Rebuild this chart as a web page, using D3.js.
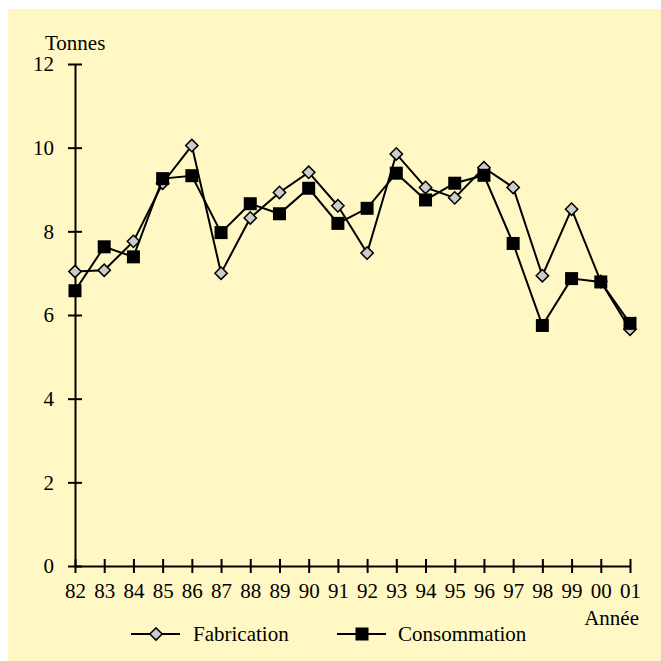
<!DOCTYPE html>
<html>
<head>
<meta charset="utf-8">
<script src="https://cdn.jsdelivr.net/npm/d3@7"></script>
<style>
  body { margin: 0; background: #fff; }
  svg text { font-family: 'Liberation Serif', 'Times New Roman', 'DejaVu Serif', serif; }
</style>
</head>
<body>
<div id="chart"></div>
<script>
// data
const years = ['82','83','84','85','86','87','88','89','90','91','92','93','94','95','96','97','98','99','00','01'];
const fabrication = [7.04, 7.07, 7.76, 9.15, 10.05, 7.0, 8.32, 8.93, 9.41, 8.61, 7.48, 9.85, 9.05, 8.80, 9.52, 9.05, 6.94, 8.53, 6.80, 5.66];
const consommation = [6.58, 7.63, 7.39, 9.26, 9.33, 7.97, 8.66, 8.42, 9.03, 8.19, 8.55, 9.39, 8.75, 9.15, 9.34, 7.71, 5.75, 6.87, 6.79, 5.80];
const yTicks = [0, 2, 4, 6, 8, 10, 12];

const width = 661, height = 661;
const margin = {top: 64, right: 31, bottom: 95, left: 75};
const visWidth = width - margin.left - margin.right;
const visHeight = height - margin.top - margin.bottom;
const fontSize = '21px';

const svg = d3.select('#chart').append('svg')
    .attr('width', width)
    .attr('height', height);

// yellow panel
svg.append('rect')
    .attr('x', 8)
    .attr('y', 9)
    .attr('width', width - 8)
    .attr('height', height - 9)
    .attr('fill', '#fff8c4');

const g = svg.append('g')
    .attr('transform', `translate(${margin.left}, ${margin.top})`);

const x = d3.scalePoint()
    .domain(years)
    .range([0, visWidth]);

const y = d3.scaleLinear()
    .domain([0, 12])
    .range([visHeight, 0]);

// axes, ticks cross the line
const yAxis = d3.axisLeft(y).tickValues(yTicks).tickSizeInner(7).tickSizeOuter(0).tickPadding(14);
g.append('g')
    .call(yAxis)
    .attr('font-family', null)
    .call(g => g.select('.domain').attr('stroke-width', 2))
    .call(g => g.selectAll('.tick line').attr('x1', 7).attr('stroke-width', 2))
    .call(g => g.selectAll('text').attr('font-size', fontSize).attr('fill', '#000'));

const xAxis = d3.axisBottom(x).tickSizeInner(7).tickSizeOuter(0).tickPadding(10);
g.append('g')
    .attr('transform', `translate(0, ${visHeight})`)
    .call(xAxis)
    .attr('font-family', null)
    .call(g => g.select('.domain').attr('stroke-width', 2))
    .call(g => g.selectAll('.tick line').attr('y1', -7).attr('stroke-width', 2))
    .call(g => g.selectAll('text').attr('font-size', fontSize).attr('fill', '#000'));

// axis titles
svg.append('text')
    .attr('x', 45)
    .attr('y', 50)
    .attr('font-size', fontSize)
    .text('Tonnes');

svg.append('text')
    .attr('x', 639)
    .attr('y', 625)
    .attr('text-anchor', 'end')
    .attr('font-size', fontSize)
    .text('Année');

const line = d3.line()
    .x((d, i) => x(years[i]))
    .y(d => y(d));

const diamond = d3.symbol().type(d3.symbolSquare).size(76);

// Fabrication: grey diamonds
g.append('path')
    .datum(fabrication)
    .attr('d', line)
    .attr('fill', 'none')
    .attr('stroke', '#000')
    .attr('stroke-width', 2);

g.selectAll('.fab')
    .data(fabrication)
    .join('path')
      .attr('class', 'fab')
      .attr('d', diamond)
      .attr('transform', (d, i) => `translate(${x(years[i])}, ${y(d)}) rotate(45)`)
      .attr('fill', '#cccccc')
      .attr('stroke', '#000')
      .attr('stroke-width', 1.5);

// Consommation: black squares
g.append('path')
    .datum(consommation)
    .attr('d', line)
    .attr('fill', 'none')
    .attr('stroke', '#000')
    .attr('stroke-width', 2);

g.selectAll('.cons')
    .data(consommation)
    .join('rect')
      .attr('class', 'cons')
      .attr('x', (d, i) => x(years[i]) - 6.5)
      .attr('y', d => y(d) - 6.5)
      .attr('width', 13)
      .attr('height', 13)
      .attr('fill', '#000');

// legend
const legend = svg.append('g');
const items = [
  {name: 'Fabrication', x0: 131, text: 193},
  {name: 'Consommation', x0: 337, text: 398}
];
legend.selectAll('line')
    .data(items)
    .join('line')
      .attr('x1', d => d.x0)
      .attr('x2', d => d.x0 + 49)
      .attr('y1', 634)
      .attr('y2', 634)
      .attr('stroke', '#000')
      .attr('stroke-width', 2);

legend.append('path')
    .attr('d', diamond)
    .attr('transform', `translate(${items[0].x0 + 25}, 634) rotate(45)`)
    .attr('fill', '#cccccc')
    .attr('stroke', '#000')
    .attr('stroke-width', 1.5);

legend.append('rect')
    .attr('x', items[1].x0 + 25 - 6.5)
    .attr('y', 634 - 6.5)
    .attr('width', 13)
    .attr('height', 13)
    .attr('fill', '#000');

legend.selectAll('text')
    .data(items)
    .join('text')
      .attr('x', d => d.text)
      .attr('y', 641)
      .attr('font-size', fontSize)
      .text(d => d.name);
</script>
</body>
</html>
